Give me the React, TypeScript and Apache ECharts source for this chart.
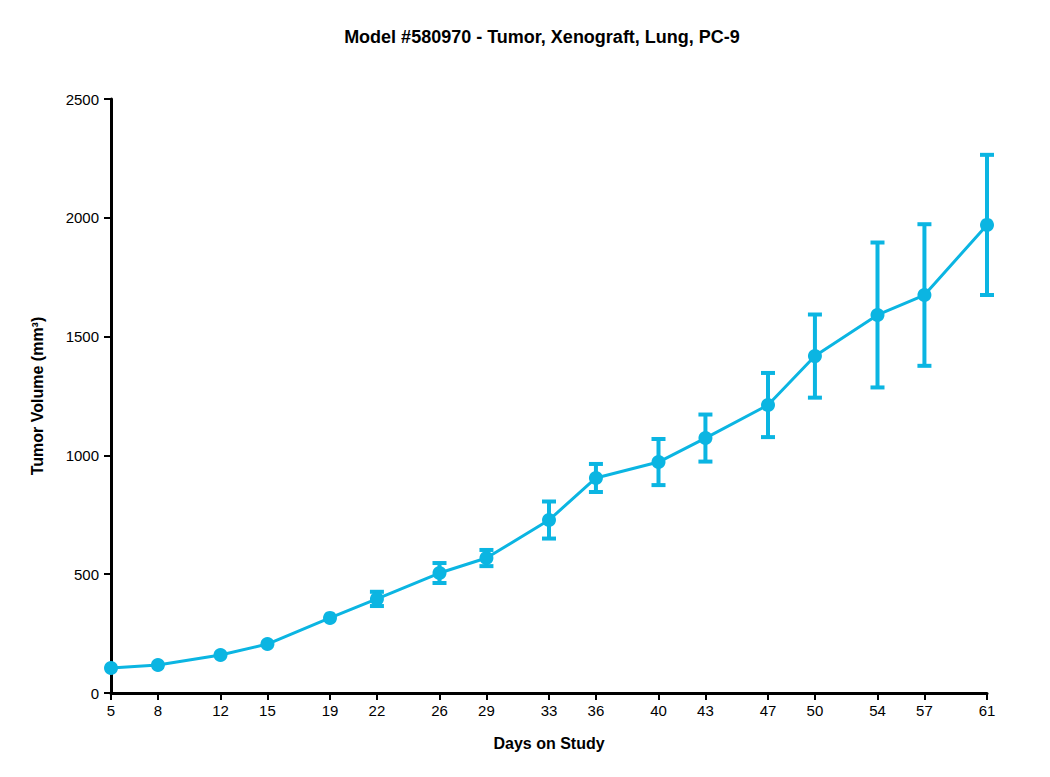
import { useEffect, useRef } from "react";
import * as echarts from "echarts";

const days = [5, 8, 12, 15, 19, 22, 26, 29, 33, 36, 40, 43, 47, 50, 54, 57, 61];
const volumes = [105, 118, 160, 206, 316, 396, 505, 568, 728, 905, 972, 1073, 1212, 1418, 1591, 1675, 1970];
const errors = [0, 0, 0, 0, 0, 30, 42, 34, 78, 59, 97, 99, 135, 175, 305, 298, 295];

const COLOR = "#0bb5e2";

export default function App() {
  const ref = useRef<HTMLDivElement | null>(null);

  useEffect(() => {
    if (!ref.current) return;
    const chart = echarts.init(ref.current, undefined, { renderer: "svg" });
    const font = "Liberation Sans, Arial, sans-serif";

    chart.setOption({
      animation: false,
      textStyle: { fontFamily: font },
      title: {
        text: "Model #580970 - Tumor, Xenograft, Lung, PC-9",
        left: 529,
        textAlign: "center",
        top: 15,
        textStyle: { fontSize: 18, fontWeight: "bold", color: "#000", fontFamily: font },
      },
      grid: { left: 103, right: 55, top: 91, bottom: 76 },
      xAxis: {
        type: "value",
        min: 5,
        max: 61,
        name: "Days on Study",
        nameLocation: "middle",
        nameGap: 42,
        nameTextStyle: { fontSize: 16, fontWeight: "bold", color: "#000" },
        splitLine: { show: false },
        axisLine: { lineStyle: { color: "#000", width: 3 } },
        axisTick: { customValues: days, length: 7, lineStyle: { color: "#000", width: 2 } },
        axisLabel: { customValues: days, fontSize: 15, color: "#000", margin: 10 },
      },
      yAxis: {
        type: "value",
        min: 0,
        max: 2500,
        interval: 500,
        name: "Tumor Volume (mm³)",
        nameLocation: "middle",
        nameGap: 66,
        nameTextStyle: { fontSize: 16, fontWeight: "bold", color: "#000" },
        splitLine: { show: false },
        axisLine: { show: true, lineStyle: { color: "#000", width: 3 } },
        axisTick: { show: true, length: 7, lineStyle: { color: "#000", width: 2 } },
        axisLabel: { fontSize: 15, color: "#000", margin: 12, formatter: (v: number) => String(v) },
      },
      series: [
        {
          type: "custom",
          data: days.map((d, i) => [d, volumes[i] - errors[i], volumes[i] + errors[i]]),
          renderItem: (_p: any, api: any) => {
            if (api.value(2) - api.value(1) <= 0) return null;
            const lo = api.coord([api.value(0), api.value(1)]);
            const hi = api.coord([api.value(0), api.value(2)]);
            const w = 7;
            const style = { stroke: COLOR, lineWidth: 4 };
            return {
              type: "group",
              children: [
                { type: "line", shape: { x1: lo[0], y1: lo[1], x2: hi[0], y2: hi[1] }, style },
                { type: "line", shape: { x1: lo[0] - w, y1: lo[1], x2: lo[0] + w, y2: lo[1] }, style },
                { type: "line", shape: { x1: hi[0] - w, y1: hi[1], x2: hi[0] + w, y2: hi[1] }, style },
              ],
            };
          },
          z: 1,
        },
        {
          type: "line",
          data: days.map((d, i) => [d, volumes[i]]),
          symbol: "circle",
          symbolSize: 14,
          itemStyle: { color: COLOR },
          lineStyle: { color: COLOR, width: 3 },
          z: 2,
        },
      ],
    });

    return () => chart.dispose();
  }, []);

  return <div ref={ref} style={{ width: 1034, height: 761 }} />;
}
